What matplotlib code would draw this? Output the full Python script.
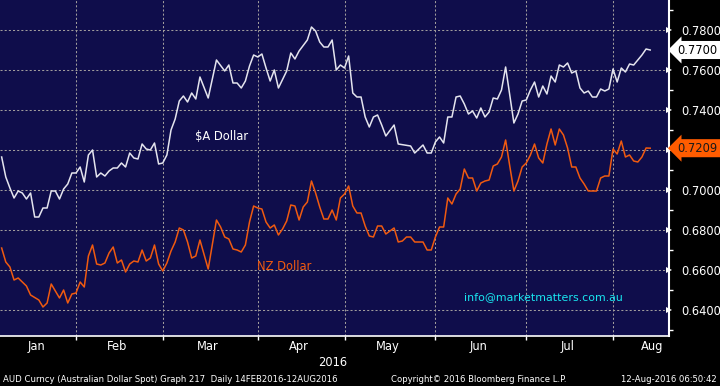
import matplotlib
matplotlib.use('Agg')
import matplotlib.pyplot as plt
import matplotlib.transforms as mtransforms
import pandas as pd
import numpy as np

# ---------------- data ----------------
# Bloomberg plots on a trading-day axis: x = index of business day from 6 Jan 2016
trading_days = pd.bdate_range('2016-01-06', '2016-08-12')

aud_day = [0, 1, 2, 3, 4, 5, 6, 7, 8, 9, 10, 11, 12, 13, 14, 15, 16, 17, 18, 19,
           20, 21, 22, 23, 24, 25, 26, 27, 28, 29, 30, 31, 32, 33, 34, 35, 36, 37, 38, 39,
           40, 41, 42, 43, 44, 45, 46, 47, 48, 50, 52, 54, 55, 56, 57, 58, 59, 60, 61, 62,
           63, 64, 65, 66, 67, 69, 70, 71, 72, 74, 75, 76, 77, 78, 79, 80, 81, 82, 83, 84,
           85, 86, 87, 88, 89, 90, 91, 92, 93, 95, 96, 99, 100, 102, 103, 104, 105, 106, 107, 108,
           109, 110, 111, 112, 113, 114, 115, 116, 117, 118, 119, 120, 121, 122, 123, 124, 125, 126, 127, 128,
           129, 130, 131, 132, 133, 134, 135, 136, 137, 138, 139, 140, 141, 142, 143, 144, 145, 146, 147, 148,
           149, 150, 151, 152, 153, 154, 155, 156, 157]
aud_val = [0.7165, 0.7065, 0.7010, 0.6960, 0.6995, 0.6985, 0.6955, 0.6985, 0.6865, 0.6865,
           0.6910, 0.6910, 0.6995, 0.6995, 0.6955, 0.7005, 0.7030, 0.7085, 0.7085, 0.7115,
           0.7040, 0.7175, 0.7200, 0.7065, 0.7085, 0.7070, 0.7095, 0.7110, 0.7110, 0.7135,
           0.7115, 0.7185, 0.7160, 0.7155, 0.7230, 0.7205, 0.7200, 0.7235, 0.7130, 0.7135,
           0.7175, 0.7300, 0.7355, 0.7445, 0.7470, 0.7440, 0.7485, 0.7455, 0.7565, 0.7460,
           0.7650, 0.7595, 0.7625, 0.7535, 0.7535, 0.7510, 0.7545, 0.7620, 0.7675, 0.7665,
           0.7680, 0.7610, 0.7545, 0.7600, 0.7510, 0.7595, 0.7685, 0.7655, 0.7695, 0.7750,
           0.7815, 0.7795, 0.7740, 0.7715, 0.7715, 0.7750, 0.7600, 0.7625, 0.7610, 0.7670,
           0.7485, 0.7465, 0.7465, 0.7365, 0.7315, 0.7365, 0.7375, 0.7325, 0.7270, 0.7325,
           0.7230, 0.7220, 0.7185, 0.7225, 0.7185, 0.7185, 0.7240, 0.7265, 0.7235, 0.7365,
           0.7365, 0.7465, 0.7470, 0.7430, 0.7380, 0.7395, 0.7360, 0.7410, 0.7365, 0.7390,
           0.7460, 0.7455, 0.7500, 0.7615, 0.7475, 0.7335, 0.7380, 0.7445, 0.7450, 0.7500,
           0.7540, 0.7465, 0.7520, 0.7480, 0.7570, 0.7540, 0.7625, 0.7615, 0.7635, 0.7585,
           0.7595, 0.7510, 0.7485, 0.7495, 0.7465, 0.7465, 0.7505, 0.7495, 0.7505, 0.7605,
           0.7540, 0.7610, 0.7590, 0.7630, 0.7625, 0.7650, 0.7675, 0.7705, 0.7700]

nzd_day = [0, 1, 2, 3, 4, 6, 7, 9, 10, 11, 12, 14, 15, 16, 17, 18, 19, 20, 21, 22,
           23, 24, 25, 26, 27, 28, 29, 30, 31, 32, 33, 34, 35, 36, 37, 38, 39, 40, 41, 42,
           43, 44, 45, 46, 47, 48, 50, 52, 53, 54, 55, 56, 57, 58, 59, 60, 61, 62, 63, 64,
           65, 66, 67, 68, 69, 70, 71, 72, 73, 74, 75, 76, 77, 78, 79, 80, 81, 82, 83, 84,
           85, 86, 87, 88, 89, 90, 91, 92, 93, 95, 96, 97, 98, 99, 100, 102, 103, 104, 105, 106,
           107, 108, 109, 110, 111, 112, 113, 114, 115, 116, 117, 118, 119, 120, 121, 122, 123, 124, 125, 126,
           127, 128, 129, 130, 131, 132, 133, 134, 135, 136, 137, 138, 139, 140, 141, 142, 144, 145, 146, 147,
           148, 149, 150, 151, 152, 153, 154, 155, 156, 157]
nzd_val = [0.6710, 0.6640, 0.6615, 0.6550, 0.6560, 0.6520, 0.6475, 0.6450, 0.6415, 0.6435,
           0.6530, 0.6460, 0.6500, 0.6435, 0.6480, 0.6485, 0.6540, 0.6515, 0.6670, 0.6725,
           0.6630, 0.6625, 0.6635, 0.6685, 0.6715, 0.6635, 0.6650, 0.6590, 0.6630, 0.6645,
           0.6640, 0.6700, 0.6645, 0.6660, 0.6725, 0.6630, 0.6595, 0.6635, 0.6695, 0.6740,
           0.6810, 0.6800, 0.6740, 0.6660, 0.6670, 0.6750, 0.6605, 0.6850, 0.6815, 0.6765,
           0.6755, 0.6705, 0.6700, 0.6690, 0.6725, 0.6840, 0.6920, 0.6910, 0.6905, 0.6840,
           0.6810, 0.6825, 0.6775, 0.6805, 0.6845, 0.6925, 0.6920, 0.6850, 0.6915, 0.6940,
           0.7045, 0.6985, 0.6915, 0.6855, 0.6855, 0.6900, 0.6850, 0.6960, 0.6980, 0.7020,
           0.6920, 0.6885, 0.6885, 0.6820, 0.6770, 0.6765, 0.6820, 0.6820, 0.6780, 0.6810,
           0.6740, 0.6745, 0.6765, 0.6765, 0.6740, 0.6740, 0.6700, 0.6700, 0.6765, 0.6815,
           0.6815, 0.6960, 0.6930, 0.6980, 0.7005, 0.7105, 0.7060, 0.7060, 0.6995, 0.7035,
           0.7045, 0.7050, 0.7120, 0.7130, 0.7165, 0.7250, 0.7120, 0.6995, 0.7045, 0.7115,
           0.7135, 0.7175, 0.7230, 0.7160, 0.7135, 0.7230, 0.7305, 0.7225, 0.7305, 0.7275,
           0.7210, 0.7115, 0.7115, 0.7060, 0.7030, 0.6995, 0.6995, 0.7060, 0.7070, 0.7070,
           0.7205, 0.7180, 0.7245, 0.7165, 0.7175, 0.7145, 0.7140, 0.7165, 0.7210, 0.7209]

month_labels = ['Jan', 'Feb', 'Mar', 'Apr', 'May', 'Jun', 'Jul', 'Aug']
y_major = [0.64, 0.66, 0.68, 0.70, 0.72, 0.74, 0.76, 0.78]
y_minor = [0.63, 0.65, 0.67, 0.69, 0.71, 0.73, 0.75, 0.77, 0.79]

# ---------------- styling ----------------
NAVY = '#0f0d4b'
WHITE_LINE = '#e4e4ee'
ORANGE = '#f05a10'
GRID = '#a09c9c'

plt.rcParams['font.family'] = ['DejaVu Sans']

fig = plt.figure(figsize=(7.2, 3.86), dpi=100, facecolor='black')
ax = fig.add_axes([0, 50 / 386, 669 / 720, 336 / 386])
ax.set_facecolor(NAVY)

ax.plot(aud_day, aud_val, color=WHITE_LINE, lw=1.1, zorder=3)
ax.plot(nzd_day, nzd_val, color=ORANGE, lw=1.1, zorder=3)

XMIN, XMAX = -0.4, 161.55
ax.set_xlim(XMIN, XMAX)
ax.set_ylim(0.627, 0.795)

# month boundaries / mid-month label positions on the trading-day axis
months = trading_days.month
month_start_idx = [int(np.argmax(months == m)) for m in range(2, 9)]
full_bdays = pd.bdate_range('2016-01-06', '2016-08-31')
label_pos = []
for m in range(1, 9):
    idx = np.where(full_bdays.month == m)[0]
    label_pos.append(min(idx.mean(), XMAX - 4))

ax.set_xticks(month_start_idx)
ax.set_xticklabels([])
ax.set_xticks(label_pos, minor=True)
ax.set_xticklabels(month_labels, minor=True)
ax.tick_params(axis='x', which='major', direction='out', length=3, width=1, color='white')
ax.tick_params(axis='x', which='minor', length=0, pad=3, labelsize=8.3, labelcolor='white')

# y axis on right
ax.yaxis.tick_right()
ax.set_yticks(y_major)
ax.set_yticklabels(['' if abs(v - 0.72) < 1e-9 else f'{v:.4f}' for v in y_major])
ax.set_yticks(y_minor, minor=True)
ax.tick_params(axis='y', which='major', direction='out', length=5, width=1.5, color='white',
               labelsize=8.3, labelcolor='white', pad=4)
ax.tick_params(axis='y', which='minor', direction='out', length=3, width=1, color='white')
for t in ax.yaxis.get_major_ticks():
    t.tick2line.set_marker('>')
    t.tick2line.set_markersize(5)
    t.tick2line.set_markeredgewidth(0)
    t.tick2line.set_markerfacecolor('white')

ax.grid(True, which='major', color=GRID, lw=0.75, linestyle=(0, (2, 2)))

for s in ['left', 'top']:
    ax.spines[s].set_visible(False)
ax.spines['right'].set_color('white')
ax.spines['right'].set_linewidth(1.5)
ax.spines['bottom'].set_color('white')
ax.spines['bottom'].set_linewidth(1.2)

# price badges
trans = mtransforms.blended_transform_factory(ax.transAxes, ax.transData)
ax.text(1.013, aud_val[-1], f'{aud_val[-1]:.4f}', transform=trans, fontsize=8.3, color='black',
        va='center', ha='left', clip_on=False, zorder=10,
        bbox=dict(boxstyle='larrow,pad=0.22', fc='white', ec='none'))
ax.text(1.013, nzd_val[-1], f'{nzd_val[-1]:.4f}', transform=trans, fontsize=8.3, color='#1a1a1a',
        va='center', ha='left', clip_on=False, zorder=10,
        bbox=dict(boxstyle='larrow,pad=0.22', fc='#ff5c00', ec='none'))

# series labels
ax.text(46.8, 0.7265, '$A Dollar', color='white', fontsize=8.3, va='center', ha='left')
ax.text(61.8, 0.6620, 'NZ Dollar', color=ORANGE, fontsize=8.3, va='center', ha='left')
ax.text(111.9, 0.6465, 'info@marketmatters.com.au', color='#19e6f0',
        fontsize=7.9, va='center', ha='left')

# figure texts
fig.text(333 / 720, 1 - 362 / 386, '2016', color='white', fontsize=8.3, ha='center', va='center')
fig.text(3 / 720, 1 - 379 / 386, 'AUD Curncy (Australian Dollar Spot) Graph 217  Daily 14FEB2016-12AUG2016',
         color='white', fontsize=6.1, ha='left', va='center')
fig.text(391 / 720, 1 - 379 / 386, 'Copyright\u00a9 2016 Bloomberg Finance L.P.',
         color='white', fontsize=6.1, ha='left', va='center')
fig.text(717 / 720, 1 - 379 / 386, '12-Aug-2016 06:50:42',
         color='white', fontsize=6.1, ha='right', va='center')

fig.savefig('out.png', dpi=100, facecolor='black')
